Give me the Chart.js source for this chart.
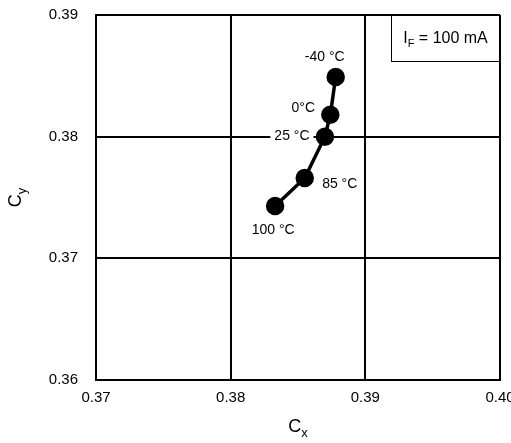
<!DOCTYPE html>
<html>
<head>
<meta charset="utf-8">
<script src="https://cdn.jsdelivr.net/npm/chart.js@4"></script>
<style>
  html, body { margin: 0; padding: 0; background: #fff; }
  #wrap { position: relative; width: 511px; height: 443px; }
</style>
</head>
<body>
<div id="wrap"><canvas id="c"></canvas></div>
<script>
// ── data ──────────────────────────────────────────────────────
const temps  = ["-40 °C", "0°C", "25 °C", "85 °C", "100 °C"];
const cxVals = [0.3878, 0.3874, 0.3870, 0.3855, 0.3833];
const cyVals = [0.3849, 0.3818, 0.3800, 0.3766, 0.3743];
const xTicks = [0.37, 0.38, 0.39, 0.40];
const yTicks = [0.36, 0.37, 0.38, 0.39];

// label placement relative to each point (px)
const labelOffsets = [[-11, -20], [-27, -7], [-33, -1], [35, 6], [-2, 24]];

const FONT = "'Liberation Sans', Arial, sans-serif";

// ── point labels + legend box + axis titles ───────────────────
const annotations = {
  id: "annotations",
  afterDatasetsDraw(chart) {
    const { ctx, chartArea: a } = chart;
    const meta = chart.getDatasetMeta(0);
    ctx.save();
    ctx.font = `14px ${FONT}`;
    ctx.textAlign = "center";
    ctx.textBaseline = "middle";
    meta.data.forEach((pt, i) => {
      const [dx, dy] = labelOffsets[i];
      const x = pt.x + dx, y = pt.y + dy;
      const w = ctx.measureText(temps[i]).width;
      ctx.fillStyle = "#fff";
      ctx.fillRect(x - w / 2 - 4, y - 8, w + 8, 16);
      ctx.fillStyle = "#000";
      ctx.fillText(temps[i], x, y);
    });

    // I_F box, top-right corner of the plot
    const bw = 109, bh = 47;
    const bx = a.right - bw, by = a.top;
    ctx.fillStyle = "#fff";
    ctx.fillRect(bx, by, bw, bh);
    ctx.strokeStyle = "#000";
    ctx.lineWidth = 1;
    ctx.strokeRect(bx + 0.5, by + 0.5, bw - 1, bh - 1);
    ctx.fillStyle = "#000";
    ctx.textAlign = "left";
    const rest = " = 100 mA";
    ctx.font = `16px ${FONT}`;
    const wI = ctx.measureText("I").width, wR = ctx.measureText(rest).width;
    ctx.font = `11px ${FONT}`;
    const wF = ctx.measureText("F").width;
    let tx = bx + bw / 2 - (wI + wF + wR) / 2;
    const ty = by + bh / 2;
    ctx.font = `16px ${FONT}`;
    ctx.fillText("I", tx, ty);
    ctx.font = `11px ${FONT}`;
    ctx.fillText("F", tx + wI, ty + 5);
    ctx.font = `16px ${FONT}`;
    ctx.fillText(rest, tx + wI + wF, ty);

    // axis titles with subscripts
    const sub = (main, s, x, y) => {
      ctx.font = `18px ${FONT}`;
      const wm = ctx.measureText(main).width;
      ctx.font = `13px ${FONT}`;
      const ws = ctx.measureText(s).width;
      const x0 = x - (wm + ws) / 2;
      ctx.font = `18px ${FONT}`;
      ctx.fillText(main, x0, y);
      ctx.font = `13px ${FONT}`;
      ctx.fillText(s, x0 + wm, y + 6);
    };
    sub("C", "x", (a.left + a.right) / 2, 427);
    ctx.translate(16, (a.top + a.bottom) / 2);
    ctx.rotate(-Math.PI / 2);
    sub("C", "y", 0, 0);
    ctx.restore();
  }
};

new Chart(document.getElementById("c"), {
  type: "scatter",
  data: {
    datasets: [{
      data: cxVals.map((x, i) => ({ x, y: cyVals[i] })),
      showLine: true,
      borderColor: "#000",
      borderWidth: 3.5,
      backgroundColor: "#000",
      pointRadius: 7.5,
      pointHoverRadius: 7.5,
    }],
  },
  options: {
    responsive: true, maintainAspectRatio: false, animation: false,
    layout: { padding: { left: 0, right: 10, top: 15, bottom: 0 } },
    plugins: { legend: { display: false }, tooltip: { enabled: false } },
    scales: {
      x: {
        type: "linear", min: 0.37, max: 0.40,
        afterBuildTicks: s => { s.ticks = xTicks.map(v => ({ value: v })); },
        afterFit: s => { s.height = 63; s.paddingLeft = 0; s.paddingRight = 0; },
        grid: { color: "#000", lineWidth: 2, drawTicks: false },
        border: { color: "#000", width: 2 },
        ticks: { padding: 9, color: "#000", font: { family: FONT, size: 15 }, callback: v => v.toFixed(2), maxRotation: 0 },
      },
      y: {
        type: "linear", min: 0.36, max: 0.39,
        afterBuildTicks: s => { s.ticks = yTicks.map(v => ({ value: v })); },
        afterFit: s => { s.width = 96; s.paddingTop = 0; s.paddingBottom = 0; },
        grid: { color: "#000", lineWidth: 2, drawTicks: false },
        border: { color: "#000", width: 2 },
        ticks: { padding: 18, color: "#000", font: { family: FONT, size: 15 }, callback: v => v.toFixed(2) },
      },
    },
  },
  plugins: [annotations],
});
</script>
</body>
</html>
